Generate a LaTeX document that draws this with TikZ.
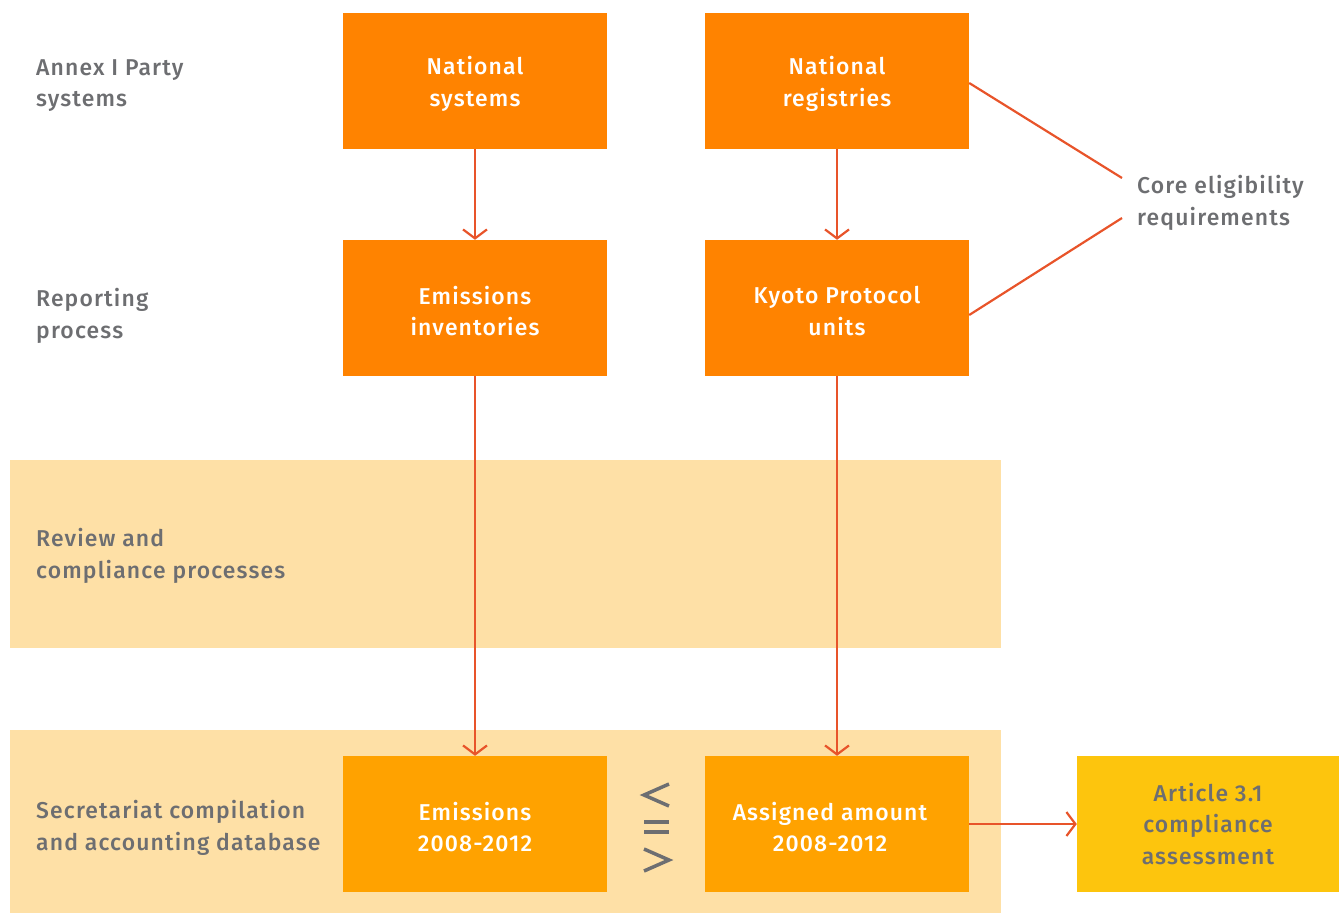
\documentclass[tikz,border=0pt]{standalone}
\usepackage{fontspec}
\setmainfont{Fira Sans}[UprightFont=* Medium, LetterSpace=5]
\usetikzlibrary{arrows.meta}
\definecolor{boxor}{HTML}{FF8300}
\definecolor{boxlo}{HTML}{FFA200}
\definecolor{boxye}{HTML}{FDC50D}
\definecolor{band}{HTML}{FEE0A6}
\definecolor{arr}{HTML}{E8542A}
\definecolor{txt}{HTML}{6D6E71}
\tikzset{
  box/.style={fill=boxor, text=white, minimum width=264bp, minimum height=136bp, inner sep=0pt, align=center, font=\fontsize{23}{32}\selectfont},
  boxtext/.style={yshift=-3bp},
  lbl/.style={text=txt, anchor=north west, inner sep=0pt, align=left, font=\fontsize{23}{32}\selectfont},
  conn/.style={draw=arr, line width=2.2bp},
  arrow/.style={conn, -{Straight Barb[length=9bp, width=24bp, line width=2.2bp]}},
  sym/.style={draw=txt, line width=3.5bp},
}
\begin{document}
\begin{tikzpicture}[x=1bp, y=-1bp]
\useasboundingbox (0,0) rectangle (1339,914);
\fill[band] (10,460) rectangle (1001,648);
\fill[band] (10,730) rectangle (1001,913);
\node[box] (ns) at (475,81) {};
\node[box] (nr) at (837,81) {};
\node[box] (ei) at (475,308) {};
\node[box] (kp) at (837,308) {};
\node[box, fill=boxlo] (em) at (475,824) {};
\node[box, fill=boxlo] (aa) at (837,824) {};
\node[box, fill=boxye, minimum width=262bp] (art) at (1208,824) {};
\node[box, fill=none, boxtext] (tns) at (ns) {National\\systems};
\node[box, fill=none, boxtext] (tnr) at (nr) {National\\registries};
\node[box, fill=none, boxtext] (tei) at (ei) {Emissions\\inventories};
\node[box, fill=none, boxtext] (tkp) at (kp) {Kyoto Protocol\\units};
\node[box, fill=none, boxtext] (tem) at (em) {Emissions\\2008-2012};
\node[box, fill=none, boxtext, xshift=-7bp] (taa) at (aa) {Assigned amount\\2008-2012};
\node[box, fill=none, text=txt, minimum width=262bp] (tart) at (art) {Article 3.1\\compliance\\assessment};
\node[lbl] (l1) at (36,59) {Annex I Party\\systems};
\node[lbl] (l2) at (36,288) {Reporting\\process};
\node[lbl] (l3) at (36,528) {Review and\\compliance processes};
\node[lbl] (l4) at (36,800) {Secretariat compilation\\and accounting database};
\node[lbl] (core) at (1137,175) {Core eligibility\\requirements};
\coordinate (c1) at (1122,178);
\coordinate (c2) at (1122,218);
\draw[arrow] (ns.south) -- (ei.north);
\draw[arrow] (nr.south) -- (kp.north);
\draw[arrow] (ei.south) -- (em.north);
\draw[arrow] (kp.south) -- (aa.north);
\draw[arrow] (aa.east) -- (art.west);
\draw[conn] (nr.east |- 0,83) -- (c1);
\draw[conn] (kp.east |- 0,315) -- (c2);
% stacked comparison sign
\draw[sym] (669,784) -- (644,795) -- (669,806);
\draw[sym] (644,822) -- (669,822) (644,832) -- (669,832);
\draw[sym] (644,849) -- (669,860) -- (644,871);
\end{tikzpicture}
\end{document}
